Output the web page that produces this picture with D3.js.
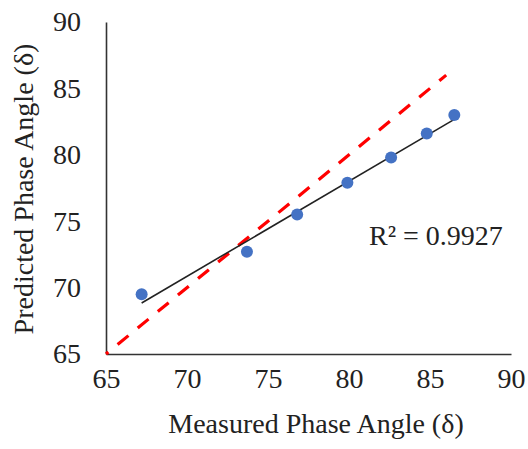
<!DOCTYPE html>
<html><head><meta charset="utf-8">
<script src="https://cdn.jsdelivr.net/npm/d3@7"></script>
<style>body{margin:0;background:#fff}svg{display:block}text{font-family:"Liberation Serif","Times New Roman",serif;fill:#222}</style>
</head><body><svg id="c" width="528" height="449"></svg>
<script>
const measured = [67.2, 73.7, 76.8, 79.9, 82.6, 84.8, 86.5];
const predicted = [69.5, 72.7, 75.5, 77.9, 79.8, 81.6, 83.0];
const xTicks = [65, 70, 75, 80, 85, 90];
const yTicks = [65, 70, 75, 80, 85, 90];
const identityLine = [65, 86];
const rSquaredLabel = "R² = 0.9927";
const xTitle = "Measured Phase Angle (δ)";
const yTitle = "Predicted Phase Angle (δ)";

const svg = d3.select("#c");
const x = d3.scaleLinear().domain([65, 90]).range([106, 511]);
const y = d3.scaleLinear().domain([65, 90]).range([354, 22]);

const xAxis = d3.axisBottom(x).tickValues(xTicks).tickSize(0).tickPadding(14).tickFormat(d3.format("d"));
const yAxis = d3.axisLeft(y).tickValues(yTicks).tickSize(0).tickPadding(25).tickFormat(d3.format("d"));
const gx = svg.append("g").attr("transform", `translate(0,${y(65)})`).call(xAxis);
const gy = svg.append("g").attr("transform", `translate(${x(65)},0)`).call(yAxis);
[gx, gy].forEach(g => {
  g.select(".domain").attr("stroke", "#333").attr("stroke-width", 1.6);
  g.selectAll("text").attr("font-size", 28).attr("fill", "#222")
    .attr("font-family", "Liberation Serif, Times New Roman, serif");
});
gx.selectAll("text").attr("dy", "0.71em");

svg.append("line")
  .attr("x1", x(identityLine[0])).attr("y1", y(identityLine[0]))
  .attr("x2", x(identityLine[1])).attr("y2", y(identityLine[1]))
  .attr("stroke", "#ff0000").attr("stroke-width", 3.2)
  .attr("stroke-dasharray", "14,12").attr("stroke-dashoffset", 11);

const n = measured.length;
const mx = d3.mean(measured), my = d3.mean(predicted);
let sxy = 0, sxx = 0;
for (let i = 0; i < n; i++) { sxy += (measured[i]-mx)*(predicted[i]-my); sxx += (measured[i]-mx)**2; }
const slope = sxy / sxx, intercept = my - slope * mx;
const x0 = d3.min(measured), x1 = d3.max(measured);
svg.append("line")
  .attr("x1", x(x0)).attr("y1", y(intercept + slope * x0))
  .attr("x2", x(x1)).attr("y2", y(intercept + slope * x1))
  .attr("stroke", "#222").attr("stroke-width", 1.6);

svg.append("g").selectAll("circle").data(measured).join("circle")
  .attr("cx", d => x(d)).attr("cy", (d, i) => y(predicted[i]))
  .attr("r", 6).attr("fill", "#4472C4");

svg.append("text").attr("x", 369).attr("y", 245).attr("font-size", 28).text(rSquaredLabel);

svg.append("text").attr("x", 316).attr("y", 433).attr("text-anchor", "middle").attr("font-size", 28).text(xTitle);
svg.append("text").attr("transform", "translate(33,189) rotate(-90)").attr("text-anchor", "middle").attr("font-size", 28).text(yTitle);
</script></body></html>
